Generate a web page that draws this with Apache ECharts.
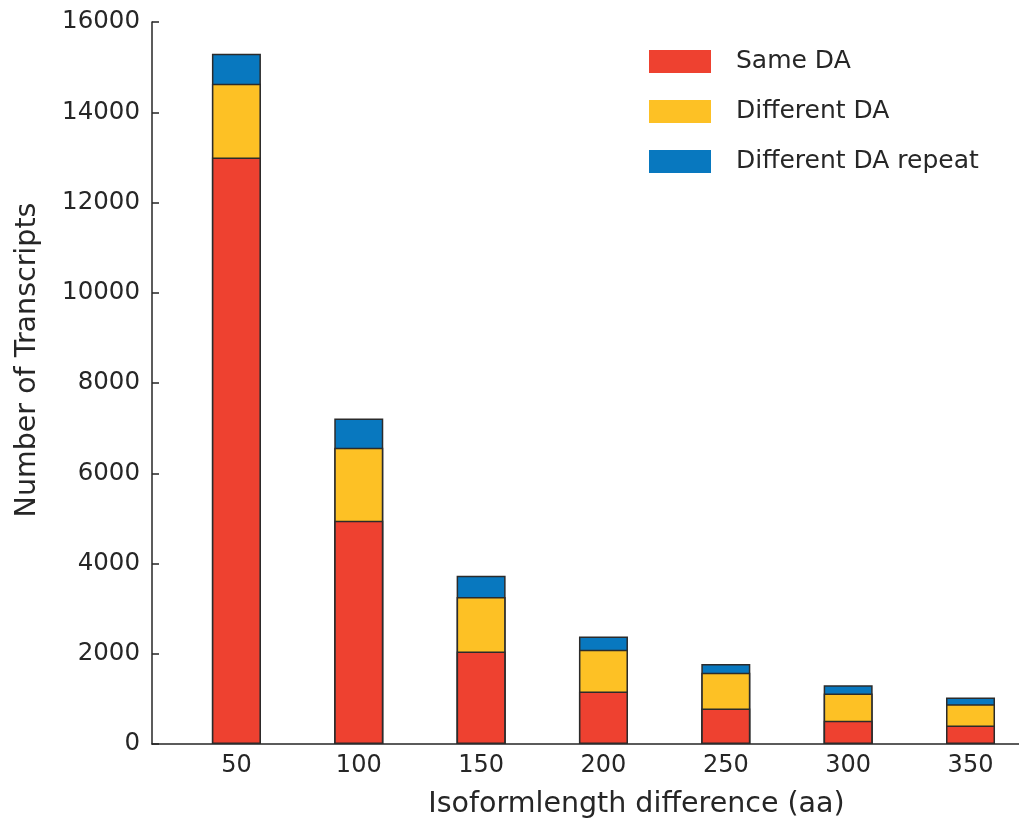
<!DOCTYPE html>
<html>
<head>
<meta charset="utf-8">
<script src="https://cdn.jsdelivr.net/npm/echarts@6/dist/echarts.min.js"></script>
<style>
html,body{margin:0;padding:0;background:#fff;}
#chart{width:1019px;height:821px;}
</style>
</head>
<body>
<div id="chart"></div>
<script>
const categories = [50, 100, 150, 200, 250, 300, 350];
const sameDA = [13000, 4950, 2050, 1165, 785, 515, 410];
const differentDA = [1630, 1615, 1205, 925, 795, 605, 470];
const differentDARepeat = [665, 650, 475, 295, 195, 180, 150];
const yTicks = [0, 2000, 4000, 6000, 8000, 10000, 12000, 14000, 16000];
const seriesNames = ['Same DA', 'Different DA', 'Different DA repeat'];

const colors = ['#EE4130', '#FDC125', '#0878BF'];
const font = 'DejaVu Sans';
const textColor = '#262626';

// cumulative tops of each stacked segment (bars drawn overlapping, tallest first)
const topSame = sameDA.slice();
const topDiff = sameDA.map((v, i) => v + differentDA[i]);
const topRepeat = topDiff.map((v, i) => v + differentDARepeat[i]);

function pairs(vals) { return categories.map((c, i) => [c, vals[i]]); }

const chart = echarts.init(document.getElementById('chart'), null, {renderer: 'canvas'});
const mk = (name, vals, color) => ({
  name: name,
  type: 'bar',
  barWidth: 49,
  barGap: '-100%',
  data: pairs(vals),
  itemStyle: {color: color, borderColor: '#2b2b2b', borderWidth: 1.5},
  emphasis: {disabled: true}
});

chart.setOption({
  animation: false,
  color: colors,
  grid: {left: 152, top: 22, width: 969, bottom: 77, containLabel: false, outerBoundsMode: 'none'},
  legend: {
    orient: 'vertical',
    left: 649, top: 49, padding: 0,
    itemWidth: 62, itemHeight: 23, itemGap: 25,
    icon: 'rect',
    itemStyle: {borderWidth: 0},
    textStyle: {fontFamily: font, fontSize: 25, color: textColor, padding: [0, 0, 0, 20]},
    data: seriesNames
  },
  xAxis: {
    type: 'value',
    min: 15.5, max: 411.5,
    name: 'Isoformlength difference (aa)',
    nameLocation: 'middle',
    nameGap: 46,
    nameTextStyle: {fontFamily: font, fontSize: 28.5, color: textColor},
    axisLine: {show: true, lineStyle: {color: '#262626', width: 1.5}},
    axisTick: {show: false},
    splitLine: {show: false},
    axisLabel: {customValues: categories, fontFamily: font, fontSize: 24, color: textColor, margin: 10,
      formatter: v => String(v)}
  },
  yAxis: {
    type: 'value',
    min: yTicks[0], max: yTicks[yTicks.length - 1], interval: 2000,
    name: 'Number of Transcripts',
    nameLocation: 'middle',
    nameGap: 110,
    nameTextStyle: {fontFamily: font, fontSize: 28.5, color: textColor, padding: [0, 0, 0, 46]},
    axisLine: {show: true, lineStyle: {color: '#262626', width: 1.5}},
    axisTick: {show: true, inside: true, length: 7, lineStyle: {color: '#262626', width: 1.5}},
    splitLine: {show: false},
    axisLabel: {fontFamily: font, fontSize: 24.5, color: textColor, margin: 12,
      formatter: v => String(v)}
  },
  series: [
    mk(seriesNames[2], topRepeat, colors[2]),
    mk(seriesNames[1], topDiff, colors[1]),
    mk(seriesNames[0], topSame, colors[0])
  ]
});
</script>
</body>
</html>
